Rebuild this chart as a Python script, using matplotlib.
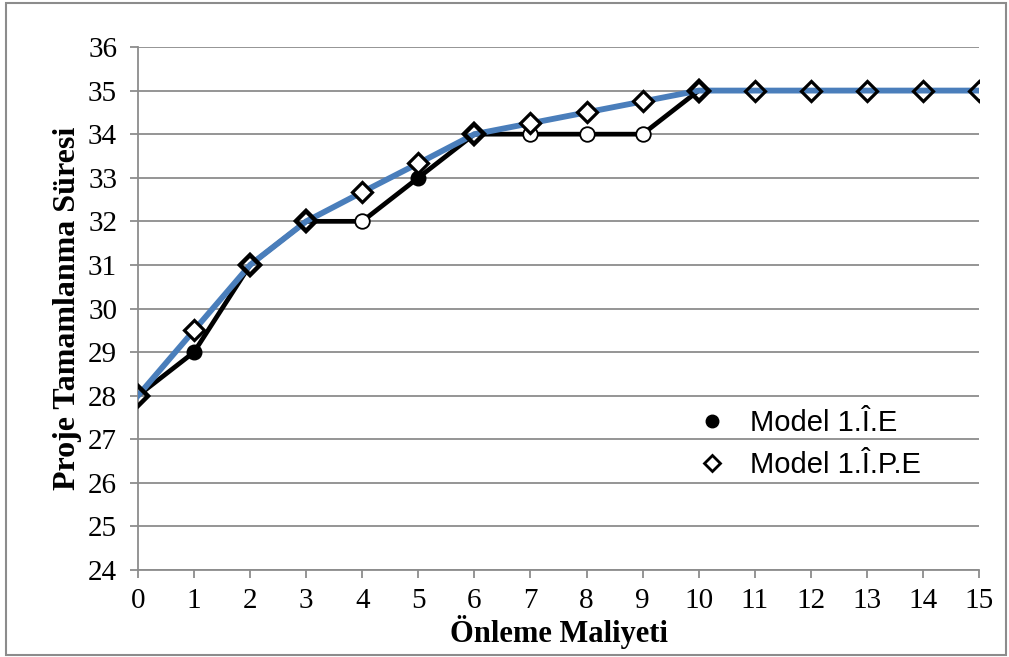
import matplotlib.pyplot as plt
from matplotlib.lines import Line2D
from matplotlib.patches import Rectangle

maliyet = list(range(16))
model_ie = [28, 29, 31, 32, 32, 33, 34, 34, 34, 34, 35, 35, 35, 35, 35, 35]
model_ipe = [28, 29.5, 31, 32, 32.67, 33.33, 34, 34.25, 34.5, 34.75, 35, 35, 35, 35, 35, 35]
# marker style of the black series at each point: 'f' filled, 'o' open, 'd' under the diamond, '' none
ie_marker = ['d', 'f', 'd', 'd', 'o', 'f', 'd', 'o', 'o', 'o', 'd', '', '', '', '', '']

plt.rcParams['font.family'] = 'Liberation Serif'
grey = '#8c8c8c'

fig = plt.figure(figsize=(10.09, 6.57), dpi=100)
ax = fig.add_axes([138 / 1009, 1 - 570 / 657, (979 - 138) / 1009, (570 - 47) / 657])

ax.plot(maliyet, model_ie, color='black', lw=3.4, zorder=3, solid_joinstyle='miter')
ax.plot(maliyet, model_ipe, color='#4a7ebb', lw=4.2, zorder=4)

for x, y, m in zip(maliyet, model_ie, ie_marker):
    if m == 'f':
        ax.plot(x, y, 'o', ms=10.5, mfc='black', mec='black', zorder=5)
    elif m == 'o':
        ax.plot(x, y, 'o', ms=10.5, mfc='white', mec='black', mew=1.3, zorder=5)

for x, y, m in zip(maliyet, model_ipe, ie_marker):
    face = 'none' if m in ('d', '') else 'white'
    edge = 3.2 if m == 'd' else 2.3
    ax.plot(x, y, 'D', ms=10.5, mfc=face, mec='black', mew=edge, zorder=6)

ax.set_xlim(0, 15)
ax.set_ylim(24, 36)
ax.set_xticks(maliyet)
ax.set_yticks(range(24, 37))
ax.grid(axis='y', color=grey, lw=1.3)
ax.set_axisbelow(True)
for s in ['top', 'right']:
    ax.spines[s].set_visible(False)
for s in ['left', 'bottom']:
    ax.spines[s].set_color(grey)
    ax.spines[s].set_linewidth(1.3)
ax.tick_params(axis='y', length=6, width=1.3, color=grey, pad=9, labelsize=21)
ax.tick_params(axis='x', length=6, width=1.3, color=grey, pad=7, labelsize=21)

ax.set_xlabel('Önleme Maliyeti', fontweight='bold', fontsize=22, labelpad=1)
ax.set_ylabel('Proje Tamamlanma Süresi', fontweight='bold', fontsize=23, labelpad=4)

handles = [Line2D([], [], ls='none', marker='o', ms=9, mfc='black', mec='black'),
           Line2D([], [], ls='none', marker='D', ms=8, mfc='white', mec='black', mew=2)]
fig.legend(handles, ['Model 1.Î.E', 'Model 1.Î.P.E'], loc='center left',
           bbox_to_anchor=(699 / 1009, 1 - 444 / 657), frameon=False,
           prop={'family': 'Liberation Sans', 'size': 21},
           handlelength=0.9, handletextpad=0.85, labelspacing=0.5,
           borderpad=0, borderaxespad=0)

fig.patches.append(Rectangle((6 / 1009, 1 - 655 / 657), 1000 / 1009, 652 / 657,
                             transform=fig.transFigure, fill=False, ec=grey, lw=1.5))

fig.savefig('out.png', dpi=100)
